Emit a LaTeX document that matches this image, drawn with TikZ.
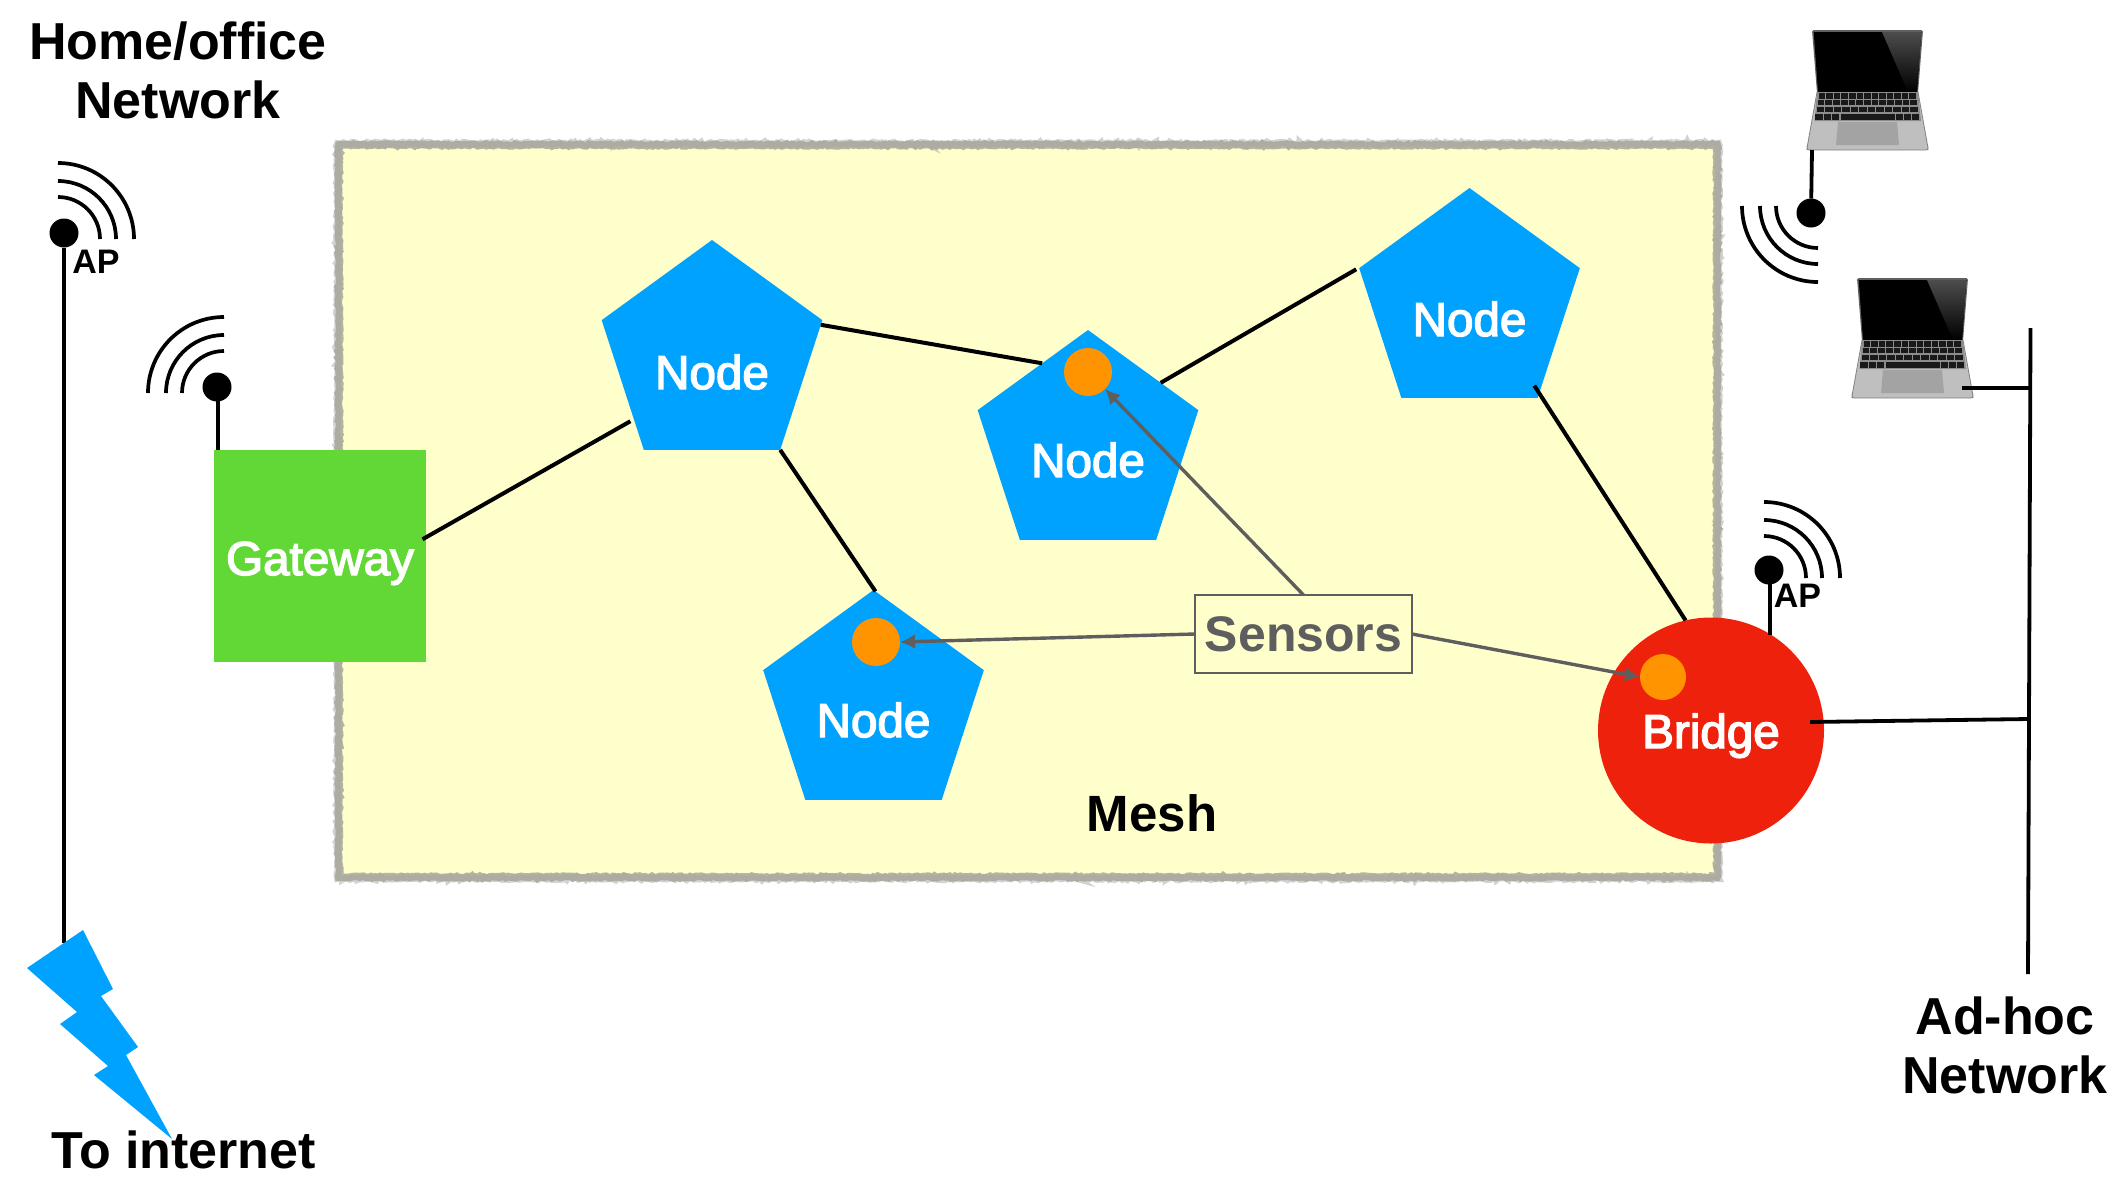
\documentclass[tikz,border=0pt]{standalone}
\usepackage{fontspec}
\usetikzlibrary{shapes.geometric,arrows.meta,decorations.pathmorphing}
\setmainfont{Liberation Sans}
\newfontfamily\medsans[RawFeature={embolden=3}]{Liberation Sans}
\newcommand{\lowered}[2]{\raisebox{-#1}[0pt][0pt]{#2}}
\definecolor{kblue}{HTML}{00A2FF}
\definecolor{kgreen}{HTML}{61D836}
\definecolor{kred}{HTML}{EE220C}
\definecolor{korange}{HTML}{FF9300}
\definecolor{kyellow}{HTML}{FFFFCC}
\definecolor{kgray}{HTML}{5E5E5E}
\definecolor{kedge}{HTML}{B4B4A0}
\tikzset{
  pent/.style={regular polygon,regular polygon sides=5,fill=kblue,inner sep=0pt,outer sep=0pt,minimum size=116pt,text=white,font=\medsans\fontsize{23.8}{28}\selectfont},
  sensor/.style={circle,fill=korange,inner sep=0pt,outer sep=0pt,minimum size=24pt},
  wire/.style={draw=black,line width=1.9pt},
  thinwire/.style={draw=black,line width=2pt},
  pointer/.style={draw=kgray,line width=1.7pt,-{Latex[length=7.5pt,width=7.5pt]}},
  apdot/.style={circle,fill=black,inner sep=0pt,outer sep=0pt,minimum size=14.5pt},
  wave/.style={draw=black,line width=1.85pt},
  heading/.style={font=\bfseries\fontsize{26}{29.5}\selectfont,align=center,inner sep=0pt},
  aplabel/.style={font=\bfseries\fontsize{17}{20}\selectfont,inner sep=0pt},
  wifi/.pic={\foreach \r in {42,58,76}{\draw[wave] (0,-\r) .. controls ({.5523*\r},-\r) and (\r,{-.5523*\r}) .. (\r,0);}},
  laptop/.pic={
    \fill[gray!75!black,rounded corners=0.8pt] (0,0)--(111,0)--(106,63)--(5,63)--cycle;
    \fill[black] (1.7,2)--(109.3,2)--(105,62)--(6,62)--cycle;
    \shade[top color=black!70,bottom color=black] (70,2)--(109.3,2)--(105,62)--(96,62)--cycle;
    \fill[black!25!white,rounded corners=1pt] (5,62)--(106,62)--(116,118)--(116,120)--(-5,120)--(-5,118)--cycle;
    \draw[black!50,line width=.4pt,rounded corners=1pt] (5,62)--(-5,118)--(-5,120)--(116,120)--(116,118)--(106,62);
    \fill[black!45] (5,62)--(106,62)--(109,91)--(2.5,91)--cycle;
    \foreach \y/\xa/\xb/\n in {63.3/6.7/105/13,70/5.7/106/13,77/4.7/107/12,84.3/3.3/28/3,84.3/84/108/3}{
      \foreach \k in {1,...,\n}{
        \fill[black!90] ({\xa+(\k-1)*(\xb-\xa)/\n},\y) rectangle ++({(\xb-\xa)/\n-1},5.4);
      }
    }
    \fill[black!90] (29,84.3) rectangle (83,90);
    \fill[black!36] (26,92)--(85,92)--(87,115)--(24,115)--cycle;
    \coordinate (-bottom) at (0,120);
    \coordinate (-side) at (105,110);
  }
}
\begin{document}
\begin{tikzpicture}[x=0.5pt,y=-0.5pt]
\useasboundingbox (0,0) rectangle (2126,1200);
\pgfmathsetseed{11}
% mesh area
\node[rectangle,fill=kyellow,draw=kedge,line width=3.8pt,inner sep=0pt,outer sep=0pt,minimum width=689pt,minimum height=366pt,decorate,decoration={random steps,segment length=1.1pt,amplitude=.45pt}] (mesh) at (1028,511) {};
\draw[draw=black!35,opacity=.5,line width=3.4pt,decorate,decoration={random steps,segment length=1pt,amplitude=.6pt}] ([shift={(-1.5,-1.5)}]mesh.north west) rectangle ([shift={(1.5,1.5)}]mesh.south east);
\node[font=\bfseries\fontsize{25.5}{30}\selectfont,inner sep=0pt,anchor=base] (meshlabel) at (1152,831) {Mesh};

% main nodes
\node[rectangle,fill=kgreen,inner sep=0pt,outer sep=0pt,minimum size=106pt,text=white,font=\medsans\fontsize{23.8}{28}\selectfont] (gw) at (320,556) {\lowered{9.5pt}{Gateway}};
\node[pent] (nA) at (712,356) {\lowered{16.5pt}{Node}};
\node[pent] (nB) at (1088,446) {\lowered{15.5pt}{Node}};
\node[pent] (nC) at (1469.5,304) {\lowered{16pt}{Node}};
\node[pent] (nD) at (873.5,706) {\lowered{15.5pt}{Node}};
\node[circle,fill=kred,inner sep=0pt,outer sep=0pt,minimum size=113pt,text=white,font=\medsans\fontsize{23.8}{28}\selectfont] (br) at (1711,730.5) {\lowered{8.75pt}{Bridge}};

% sensors
\node[sensor] (sB) at (1088,372) {};
\node[sensor] (sD) at (876,642) {};
\node[sensor,minimum size=23pt] (sR) at (1663,677) {};
\node[rectangle,draw=kgray,line width=1pt,inner sep=0pt,outer sep=0pt,minimum width=108.5pt,minimum height=39pt,text=kgray,font=\bfseries\fontsize{25}{28}\selectfont] (sens) at (1303.5,634) {Sensors};

% mesh links
\draw[thinwire,shorten <=-2pt,shorten >=2pt] (gw.10) -- (nA.219);
\draw[thinwire] (nA.16) -- (nB.119.3);
\draw[thinwire] (nA.-54) -- (nD.89);
\draw[thinwire,shorten >=4pt] (nB.41.6) -- (nC.160);
\draw[thinwire,shorten <=-4.5pt] (nC.-52.7) -- (br.103.5);

% sensor pointers
\draw[pointer] (sens.north) -- (sB.-45);
\draw[pointer] (sens.west) -- (sD.east);
\draw[pointer] (sens.east) -- (sR.west);

% home/office AP
\node[apdot] (ap1) at (64,233) {};
\pic at (58,239) {wifi};
\node[aplabel] (ap1l) at (96,262) {AP};
\draw[wire] (ap1) -- (64,943) coordinate (lineend);
\fill[kblue] (83,930)--(113,989)--(101,996)--(138,1047)--(126,1055)--(172,1139)--(94,1075)--(108,1066)--(60,1024)--(77,1012)--(27,968)--cycle;

% gateway antenna
\node[apdot] (gwdot) at (217,387) {};
\pic[xscale=-1] at (224,393) {wifi};
\coordinate (gwtop) at (218,450);
\draw[wire] (gwdot.center -| gwtop) -- (gwtop);

% laptops
\pic (lap1) at (1812,30) {laptop};
\pic (lap2) at (1857,278) {laptop};
\node[apdot] (lapdot) at (1811,213) {};
\pic[xscale=-1,yscale=-1] at (1818,206) {wifi};
\draw[wire] (lap1-bottom) -- (lapdot);

% bridge antenna
\node[apdot] (brdot) at (1769,570) {};
\pic at (1764,578) {wifi};
\node[aplabel] (ap2l) at (1797.5,596) {AP};
\coordinate (brtop) at (1770,635);
\draw[wire] (brdot.center -| brtop) -- (brtop);

% ad-hoc bus
\coordinate (bustop) at (2030.5,328);
\coordinate (busbottom) at (2028,974);
\coordinate (busA) at (2030,388);
\coordinate (busB) at (2029,719);
\coordinate (brport) at (1810,722);
\draw[wire] (bustop) -- (busbottom);
\draw[wire] (lap2-side) -- (busA);
\draw[wire] (brport) -- (busB);

% headings
\node[heading] (home) at (178,70) {Home/office\\Network};
\node[heading] (adhoc) at (2005,1045) {Ad-hoc\\Network};
\node[heading,font=\bfseries\fontsize{26}{29.5}\selectfont,anchor=base] (toint) at (183.5,1168) {To internet};
\end{tikzpicture}
\end{document}
